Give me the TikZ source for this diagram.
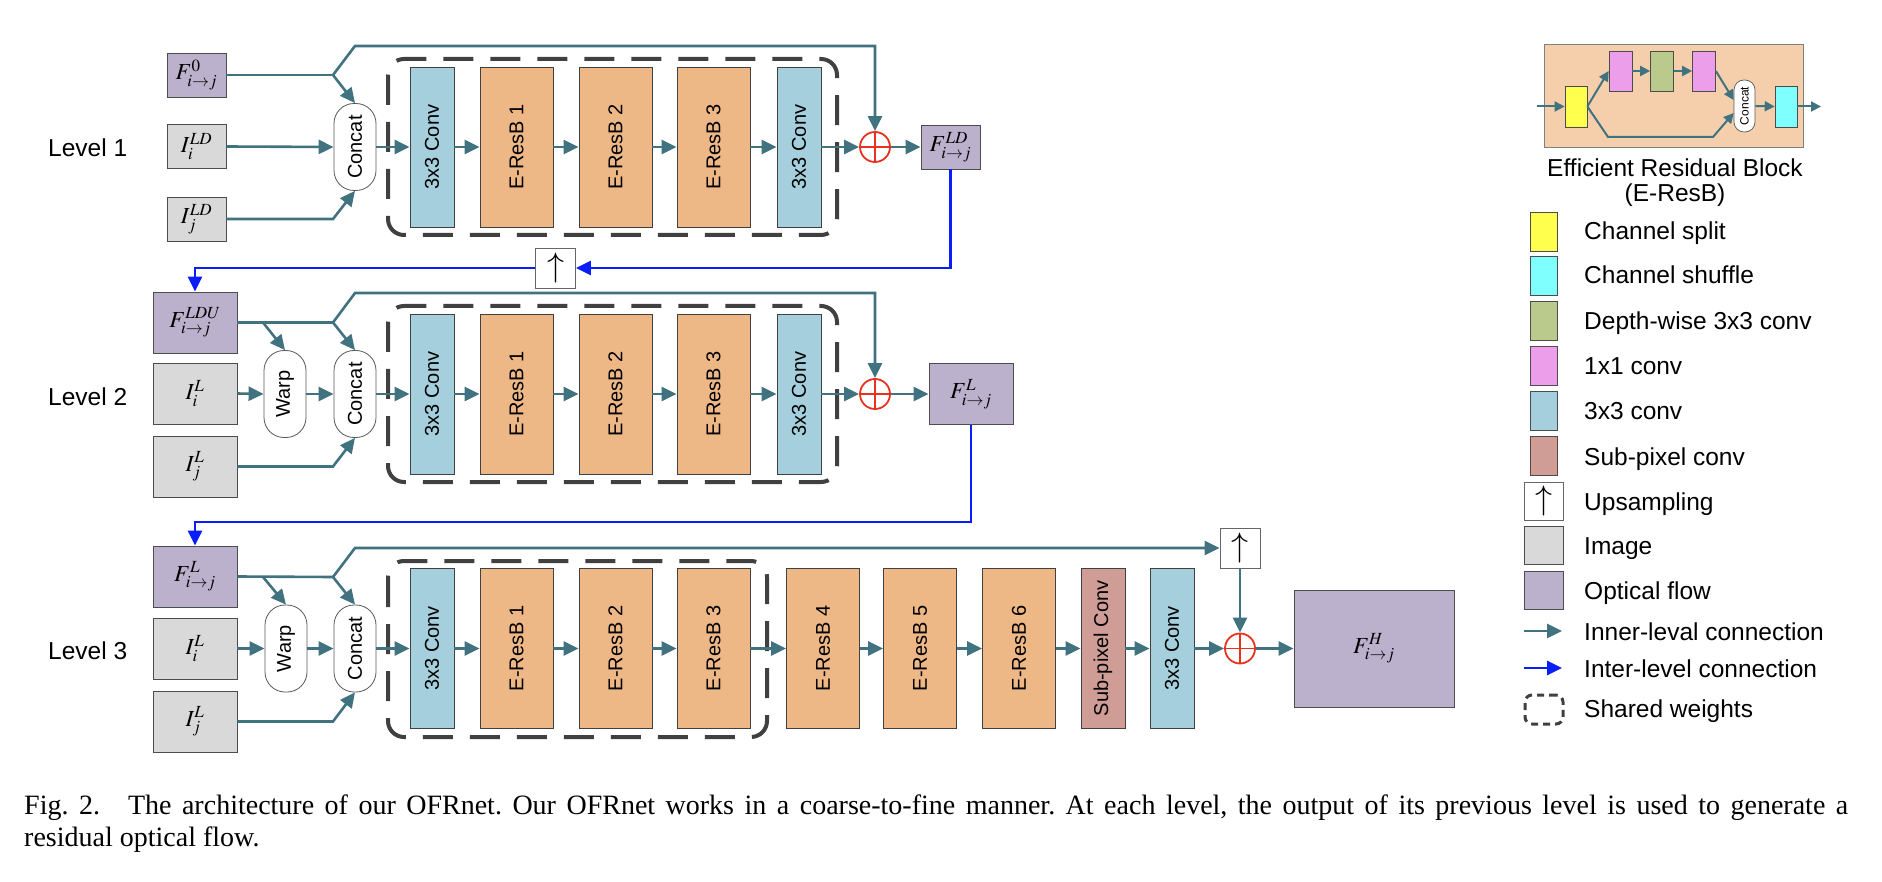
\documentclass[tikz,border=0pt]{standalone}
\usepackage{graphicx}
\usepackage{mathptmx}
\usepackage{fontspec}
\setmainfont{Liberation Sans}
\newfontfamily\capfont{Liberation Serif}
\usetikzlibrary{arrows.meta}
\definecolor{linkteal}{RGB}{64,114,128}
\definecolor{linkblue}{RGB}{10,30,250}
\definecolor{convblue}{RGB}{165,207,220}
\definecolor{resorange}{RGB}{238,184,134}
\definecolor{flowpurple}{RGB}{187,177,204}
\definecolor{imggray}{RGB}{217,217,217}
\definecolor{subred}{RGB}{208,156,150}
\definecolor{splityellow}{RGB}{255,255,77}
\definecolor{shufcyan}{RGB}{128,255,255}
\definecolor{dwgreen}{RGB}{185,202,140}
\definecolor{pwpink}{RGB}{236,158,234}
\definecolor{erbpeach}{RGB}{245,206,172}
\definecolor{addred}{RGB}{232,50,30}
\definecolor{sharedgray}{RGB}{64,64,64}
\begin{document}
\begin{tikzpicture}[x=1pt,y=-1pt,
  every node/.style={inner sep=0pt},
  blk/.style={draw=black!75,line width=0.8pt,minimum height=160pt,font=\fontsize{20}{24}\selectfont},
  conv/.style={blk,fill=convblue,minimum width=44pt},
  eresb/.style={blk,fill=resorange,minimum width=73pt},
  subpix/.style={blk,fill=subred,minimum width=44pt},
  pill/.style={draw=black!65,line width=0.8pt,fill=white,rounded corners=20pt,minimum width=42pt,minimum height=87pt,font=\fontsize{20}{24}\selectfont},
  imgbox/.style={draw=black!70,line width=0.8pt,fill=imggray,minimum width=84pt,minimum height=61pt,font=\fontsize{23}{26}\selectfont},
  flowbox/.style={imgbox,fill=flowpurple},
  smallbox/.style={minimum width=59pt,minimum height=44pt},
  upbox/.style={draw=black!60,line width=0.8pt,fill=white,minimum width=40pt,minimum height=40pt,font=\fontsize{34}{34}\selectfont},
  addop/.style={circle,draw=addred,line width=1.8pt,minimum size=30pt,path picture={\draw [addred,line width=1.8pt] (path picture bounding box.north) -- (path picture bounding box.south) (path picture bounding box.west) -- (path picture bounding box.east);}},
  plain/.style={draw=linkteal,line width=2.6pt},
  inner/.style={plain,-{Triangle[length=15pt,width=14pt]}},
  inter/.style={draw=linkblue,line width=2.6pt,-{Triangle[length=15pt,width=14pt]}},
  shared/.style={draw=sharedgray,line width=4pt,dash pattern=on 30pt off 17pt,rounded corners=16pt},
  minib/.style={draw=black!70,line width=0.7pt,minimum width=22pt,minimum height=41pt},
  minilink/.style={draw=linkteal,line width=2pt,-{Triangle[length=10pt,width=10pt]}},
  lgkey/.style={draw=black!70,line width=0.8pt,minimum width=27pt,minimum height=39pt},
  lgtext/.style={anchor=base west,font=\fontsize{24.5}{29}\selectfont},
  lvl/.style={lgtext}]
\useasboundingbox (0,0) rectangle (1882,882);
% level 1
\node [lvl] (lev1) at (48,157) {Level 1};
\node [flowbox,smallbox] (f0) at (196.5,75) {$F^{0}_{i\rightarrow j}$};
\node [imgbox,smallbox] (ild1) at (196.5,146.5) {$I^{LD}_{i}$};
\node [imgbox,smallbox] (jld1) at (196.5,219) {$I^{LD}_{j}$};
\node [pill] (cat1) at (355,147) {\rotatebox{90}{Concat}};
\node [conv] (c1a) at (432,147) {\rotatebox{90}{3x3 Conv}};
\node [eresb] (r1a) at (516.5,147) {\rotatebox{90}{E-ResB 1}};
\node [eresb] (r1b) at (615.5,147) {\rotatebox{90}{E-ResB 2}};
\node [eresb] (r1c) at (713.5,147) {\rotatebox{90}{E-ResB 3}};
\node [conv] (c1b) at (799,147) {\rotatebox{90}{3x3 Conv}};
\node [addop] (add1) at (875,147) {};
\node [flowbox,smallbox] (fld) at (950.5,147) {$F^{LD}_{i\rightarrow j}$};
\node [upbox] (up1) at (555.5,268) {$\uparrow$};
\draw [shared] (388,59) rectangle (837,235);
\coordinate (j1) at (333,75);
\coordinate (k1) at (355,46);
\coordinate (m1) at (333,219);
\draw [plain] (f0.east) -- (j1);
\draw [inner] (j1) -- (cat1.north);
\draw [inner] (j1) -- (k1) -| (add1.north);
\draw [inner] (ild1.east) -- (cat1.west);
\draw [inner] (jld1.east) -- (m1) -- (cat1.south);
\draw [inner] (cat1.east) -- (c1a.west);
\draw [inner] (c1a.east) -- (r1a.west);
\draw [inner] (r1a.east) -- (r1b.west);
\draw [inner] (r1b.east) -- (r1c.west);
\draw [inner] (r1c.east) -- (c1b.west);
\draw [inner] (c1b.east) -- (add1.west);
\draw [inner] (add1.east) -- (fld.west);
\draw [inter] (fld.south) |- (up1.east);
% level 2
\node [lvl] (lev2) at (48,406) {Level 2};
\node [flowbox] (fldu) at (195,322.5) {$F^{LDU}_{i\rightarrow j}$};
\node [imgbox] (il2) at (195,393.5) {$I^{L}_{i}$};
\node [imgbox] (jl2) at (195,466.5) {$I^{L}_{j}$};
\node [pill] (warp2) at (285,394) {\rotatebox{90}{Warp}};
\node [pill] (cat2) at (355,394) {\rotatebox{90}{Concat}};
\node [conv] (c2a) at (432,394) {\rotatebox{90}{3x3 Conv}};
\node [eresb] (r2a) at (516.5,394) {\rotatebox{90}{E-ResB 1}};
\node [eresb] (r2b) at (615.5,394) {\rotatebox{90}{E-ResB 2}};
\node [eresb] (r2c) at (713.5,394) {\rotatebox{90}{E-ResB 3}};
\node [conv] (c2b) at (799,394) {\rotatebox{90}{3x3 Conv}};
\node [addop] (add2) at (875,394) {};
\node [flowbox] (fl2) at (971,394) {$F^{L}_{i\rightarrow j}$};
\draw [shared] (388,306) rectangle (837,482);
\draw [inter] (up1.west) -| (fldu.north);
\coordinate (b2) at (263,322.5);
\coordinate (j2) at (333,322.5);
\coordinate (k2) at (355,293);
\coordinate (m2) at (333,466.5);
\draw [plain] (fldu.east) -- (j2);
\draw [inner] (b2) -- (warp2.north);
\draw [inner] (j2) -- (cat2.north);
\draw [inner] (j2) -- (k2) -| (add2.north);
\draw [inner] (il2.east) -- (warp2.west);
\draw [inner] (warp2.east) -- (cat2.west);
\draw [inner] (jl2.east) -- (m2) -- (cat2.south);
\draw [inner] (cat2.east) -- (c2a.west);
\draw [inner] (c2a.east) -- (r2a.west);
\draw [inner] (r2a.east) -- (r2b.west);
\draw [inner] (r2b.east) -- (r2c.west);
\draw [inner] (r2c.east) -- (c2b.west);
\draw [inner] (c2b.east) -- (add2.west);
\draw [inner] (add2.east) -- (fl2.west);
% level 3
\node [lvl] (lev3) at (48,659) {Level 3};
\node [flowbox] (fl3) at (195,576.5) {$F^{L}_{i\rightarrow j}$};
\node [imgbox] (il3) at (195,648.5) {$I^{L}_{i}$};
\node [imgbox] (jl3) at (195,721.5) {$I^{L}_{j}$};
\node [pill] (warp3) at (286,648.5) {\rotatebox{90}{Warp}};
\node [pill] (cat3) at (355,648.5) {\rotatebox{90}{Concat}};
\node [conv] (c3a) at (432,648.5) {\rotatebox{90}{3x3 Conv}};
\node [eresb] (r3a) at (516.5,648.5) {\rotatebox{90}{E-ResB 1}};
\node [eresb] (r3b) at (615.5,648.5) {\rotatebox{90}{E-ResB 2}};
\node [eresb] (r3c) at (713.5,648.5) {\rotatebox{90}{E-ResB 3}};
\node [eresb] (r3d) at (823,648.5) {\rotatebox{90}{E-ResB 4}};
\node [eresb] (r3e) at (920,648.5) {\rotatebox{90}{E-ResB 5}};
\node [eresb] (r3f) at (1019,648.5) {\rotatebox{90}{E-ResB 6}};
\node [subpix] (sp3) at (1103,648.5) {\rotatebox{90}{Sub-pixel Conv}};
\node [conv] (c3b) at (1172,648.5) {\rotatebox{90}{3x3 Conv}};
\node [upbox] (up3) at (1240,548) {$\uparrow$};
\node [addop] (add3) at (1240,648.5) {};
\node [flowbox,minimum width=160pt,minimum height=117pt] (fh) at (1374,648.5) {$F^{H}_{i\rightarrow j}$};
\draw [shared] (388,561) rectangle (767,737);
\coordinate (d2) at (971,522);
\draw [inter] (fl2.south) -- (d2) -| (fl3.north);
\coordinate (b3) at (263,577);
\coordinate (j3) at (333,577);
\coordinate (k3) at (355,548);
\coordinate (m3) at (333,721.5);
\draw [plain] (fl3.east) -- (j3);
\draw [inner] (b3) -- (warp3.north);
\draw [inner] (j3) -- (cat3.north);
\draw [inner] (j3) -- (k3) -- (up3.west);
\draw [inner] (il3.east) -- (warp3.west);
\draw [inner] (warp3.east) -- (cat3.west);
\draw [inner] (jl3.east) -- (m3) -- (cat3.south);
\draw [inner] (cat3.east) -- (c3a.west);
\draw [inner] (c3a.east) -- (r3a.west);
\draw [inner] (r3a.east) -- (r3b.west);
\draw [inner] (r3b.east) -- (r3c.west);
\draw [inner] (r3c.east) -- (r3d.west);
\draw [inner] (r3d.east) -- (r3e.west);
\draw [inner] (r3e.east) -- (r3f.west);
\draw [inner] (r3f.east) -- (sp3.west);
\draw [inner] (sp3.east) -- (c3b.west);
\draw [inner] (c3b.east) -- (add3.west);
\draw [inner] (up3.south) -- (add3.north);
\draw [inner] (add3.east) -- (fh.west);
% E-ResB panel
\node [draw=black!50,line width=0.8pt,fill=erbpeach,minimum width=259pt,minimum height=103pt] (erb) at (1673.5,95.5) {};
\node [minib,fill=splityellow] (msplit) at (1576,106.5) {};
\node [minib,fill=pwpink,minimum width=23pt,minimum height=40pt] (mpw1) at (1620.5,71) {};
\node [minib,fill=dwgreen,minimum width=23pt,minimum height=40pt] (mdw) at (1662,71) {};
\node [minib,fill=pwpink,minimum width=23pt,minimum height=40pt] (mpw2) at (1704,71) {};
\node [draw=black!65,line width=0.7pt,fill=white,rounded corners=10pt,minimum width=21pt,minimum height=52pt,font=\fontsize{12}{12}\selectfont] (mcat) at (1744.5,106) {\rotatebox{90}{Concat}};
\node [minib,fill=shufcyan] (mshuf) at (1786,106.5) {};
\coordinate (ein) at (1537,106.5);
\coordinate (eout) at (1821,106.5);
\coordinate (ed1) at (1608,137);
\coordinate (ed2) at (1713,137);
\draw [minilink] (ein) -- (msplit.west);
\draw [minilink] (msplit.east) -- (mpw1.west);
\draw [minilink] (mpw1.east) -- (mdw.west);
\draw [minilink] (mdw.east) -- (mpw2.west);
\draw [minilink] (mpw2.east) -- ([yshift=6pt]mcat.west);
\draw [minilink] (msplit.east) -- (ed1) -- (ed2) -- ([yshift=-7pt]mcat.west);
\draw [minilink] (mcat.east) -- (mshuf.west);
\draw [minilink] (mshuf.east) -- (eout);
\node [lgtext,anchor=base] (erbname) at (1675,177) {Efficient Residual Block};
\node [lgtext,anchor=base] (erbshort) at (1675,202) {(E-ResB)};
% legend
\node [lgkey,fill=splityellow] (ksplit) at (1543.5,231.5) {};
\node [lgtext] (tsplit) at (1584,240) {Channel split};
\node [lgkey,fill=shufcyan] (kshuf) at (1543.5,276) {};
\node [lgtext] (tshuf) at (1584,284) {Channel shuffle};
\node [lgkey,fill=dwgreen] (kdw) at (1543.5,321) {};
\node [lgtext] (tdw) at (1584,330) {Depth-wise 3x3 conv};
\node [lgkey,fill=pwpink] (kpw) at (1543.5,366) {};
\node [lgtext] (tpw) at (1584,375) {1x1 conv};
\node [lgkey,fill=convblue] (kconv) at (1543.5,411) {};
\node [lgtext] (tconv) at (1584,420) {3x3 conv};
\node [lgkey,fill=subred] (ksub) at (1543.5,456) {};
\node [lgtext] (tsub) at (1584,465) {Sub-pixel conv};
\node [upbox,minimum width=39pt,minimum height=38pt] (kup) at (1543.5,501) {$\uparrow$};
\node [lgtext] (tup) at (1584,510) {Upsampling};
\node [imgbox,minimum width=39pt,minimum height=38pt] (kimg) at (1543.5,545) {};
\node [lgtext] (timg) at (1584,554) {Image};
\node [flowbox,minimum width=39pt,minimum height=38pt] (kflow) at (1543.5,590) {};
\node [lgtext] (tflow) at (1584,599) {Optical flow};
\coordinate (kin1) at (1524,631);
\coordinate (kin2) at (1562,631);
\draw [inner] (kin1) -- (kin2);
\node [lgtext] (tin) at (1584,640) {Inner-leval connection};
\coordinate (kx1) at (1524,668);
\coordinate (kx2) at (1562,668);
\draw [inter] (kx1) -- (kx2);
\node [lgtext] (tx) at (1584,677) {Inter-level connection};
\node [draw=sharedgray,line width=3pt,dash pattern=on 7pt off 5pt,rounded corners=7pt,minimum width=38pt,minimum height=29pt] (kshared) at (1544,709.5) {};
\node [lgtext] (tshared) at (1584,717) {Shared weights};
% caption
\node [anchor=north west,text width=1824pt,align=justify,font=\capfont\frenchspacing\fontsize{28}{32}\selectfont] (cap) at (24,795) {Fig.~2.\quad The architecture of our OFRnet. Our OFRnet works in a coarse-to-fine manner. At each level, the output of its previous level is used to generate a\linebreak residual optical flow.};
\end{tikzpicture}
\end{document}
